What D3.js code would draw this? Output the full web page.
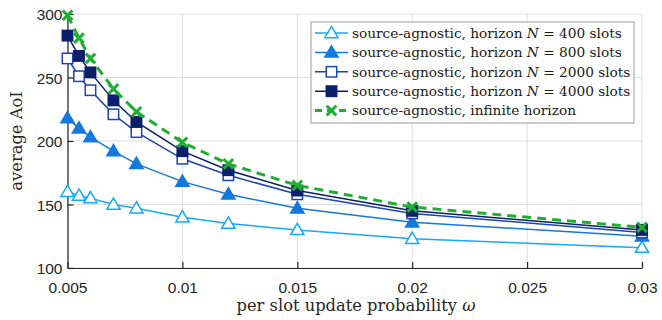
<!DOCTYPE html>
<html>
<head>
<meta charset="utf-8">
<script src="https://cdn.jsdelivr.net/npm/d3@7"></script>
<style>
  body { margin: 0; background: #fff; }
  svg { display: block; }
</style>
</head>
<body>
<svg id="chart" width="662" height="320"></svg>
<script>
// update probabilities (x)
const omega = [0.005, 0.0055, 0.006, 0.007, 0.008, 0.01, 0.012, 0.015, 0.02, 0.03];

// average AoI per horizon
const aoiN400 = [160, 157, 155, 150, 147, 140, 135, 130, 123, 116];
const aoiN800 = [218, 210, 203, 192, 182, 168, 158, 147, 136, 125];
const aoiN2000 = [265, 251, 240, 221, 207, 186, 173, 158, 143, 128];
const aoiN4000 = [283, 267, 254, 232, 215, 192, 177, 161, 145, 130];
const aoiInf = [299, 281, 265, 241, 223, 199, 182, 165, 148, 132];

const xTicks = [0.005, 0.01, 0.015, 0.02, 0.025, 0.03];
const yTicks = [100, 150, 200, 250, 300];

const seriesNames = [
    "source-agnostic, horizon N = 400 slots",
    "source-agnostic, horizon N = 800 slots",
    "source-agnostic, horizon N = 2000 slots",
    "source-agnostic, horizon N = 4000 slots",
    "source-agnostic, infinite horizon"
];

const series = [
    { values: aoiN400, color: "#14aaf5", marker: "triangle", fill: false, dash: null },
    { values: aoiN800, color: "#1578dc", marker: "triangle", fill: true, dash: null },
    { values: aoiN2000, color: "#1c45b4", marker: "square", fill: false, dash: null },
    { values: aoiN4000, color: "#0b1f6b", marker: "square", fill: true, dash: null },
    { values: aoiInf, color: "#1fae32", marker: "cross", fill: false, dash: "9,6" }
];

const serif = "'DejaVu Serif', serif";

const svg = d3.select("#chart");
const margin = { left: 67.5, right: 20, top: 14, bottom: 52 };
const width = 662, height = 320;

const x = d3.scaleLinear().domain([0.005, 0.03]).range([margin.left, width - margin.right]);
const y = d3.scaleLinear().domain([100, 300]).range([height - margin.bottom, margin.top]);

// grid
svg.append("g").selectAll("line.gx")
    .data(xTicks)
    .enter().append("line")
      .attr("x1", d => x(d)).attr("x2", d => x(d))
      .attr("y1", y(100)).attr("y2", y(300))
      .attr("stroke", "#dedede").attr("stroke-width", 1);
svg.append("g").selectAll("line.gy")
    .data(yTicks)
    .enter().append("line")
      .attr("x1", x(0.005)).attr("x2", x(0.03))
      .attr("y1", d => y(d)).attr("y2", d => y(d))
      .attr("stroke", "#dedede").attr("stroke-width", 1);

// axes
const xAxis = d3.axisBottom(x).tickValues(xTicks).tickSizeInner(-6).tickSizeOuter(0)
    .tickFormat(d => d3.format("")(+d.toFixed(3)));
const yAxis = d3.axisLeft(y).tickValues(yTicks).tickSizeInner(-6).tickSizeOuter(0);

const gx = svg.append("g").attr("transform", `translate(0,${y(100)})`).call(xAxis);
const gy = svg.append("g").attr("transform", `translate(${x(0.005)},0)`).call(yAxis);

[gx, gy].forEach(g => {
    g.select(".domain").attr("stroke", "#262626").attr("stroke-width", 1.2);
    g.selectAll(".tick line").attr("stroke", "#262626").attr("stroke-width", 1.2);
    g.selectAll(".tick text")
        .attr("fill", "#262626")
        .style("font-family", "'Liberation Sans', Arial, sans-serif")
        .style("font-size", "15.5px");
});
gx.selectAll(".tick text").attr("y", 9).attr("dy", "1.0em");
gy.selectAll(".tick text").attr("x", -5).attr("dy", "0.36em");

// axis labels
svg.append("text")
    .attr("x", 356)
    .attr("y", 311)
    .attr("text-anchor", "middle")
    .style("font-family", serif)
    .style("font-size", "16.3px")
    .attr("fill", "#262626")
    .html("per slot update probability <tspan font-style='italic'>ω</tspan>");

svg.append("text")
    .attr("transform", "rotate(-90)")
    .attr("x", -141)
    .attr("y", 22)
    .attr("text-anchor", "middle")
    .style("font-family", serif)
    .style("font-size", "16.3px")
    .attr("fill", "#262626")
    .text("average AoI");

// marker drawing
function drawMarker(g, s, cx, cy) {
    if (s.marker === "triangle") {
        const r = 7.8;
        g.append("path")
            .attr("d", `M${cx},${cy - r * 0.85} L${cx + r * 0.85},${cy + r * 0.6} L${cx - r * 0.85},${cy + r * 0.6} Z`)
            .attr("fill", s.fill ? s.color : "#fff")
            .attr("stroke", s.color).attr("stroke-width", 1.5);
    } else if (s.marker === "square") {
        const h = 5.2;
        g.append("rect")
            .attr("x", cx - h).attr("y", cy - h).attr("width", 2 * h).attr("height", 2 * h)
            .attr("fill", s.fill ? s.color : "#fff")
            .attr("stroke", s.color).attr("stroke-width", 1.5);
    } else {
        const h = 4.8;
        g.append("path")
            .attr("d", `M${cx - h},${cy - h} L${cx + h},${cy + h} M${cx - h},${cy + h} L${cx + h},${cy - h}`)
            .attr("stroke", s.color).attr("stroke-width", 3).attr("fill", "none");
    }
}

const line = d3.line().x(d => x(d[0])).y(d => y(d[1]));

series.forEach(s => {
    const pts = omega.map((w, i) => [w, s.values[i]]);
    svg.append("path")
        .datum(pts)
        .attr("d", line)
        .attr("fill", "none")
        .attr("stroke", s.color)
        .attr("stroke-width", s.dash ? 3 : 1.5)
        .attr("stroke-dasharray", s.dash);
    const g = svg.append("g");
    pts.forEach(p => drawMarker(g, s, x(p[0]), y(p[1])));
});

// legend
const legend = svg.append("g");
legend.append("rect")
    .attr("x", 311).attr("y", 22).attr("width", 323).attr("height", 101)
    .attr("fill", "#fff").attr("stroke", "#9a9a9a").attr("stroke-width", 1);

series.forEach((s, i) => {
    const ly = 33 + i * 19.4;
    legend.append("line")
        .attr("x1", 315).attr("x2", 348).attr("y1", ly).attr("y2", ly)
        .attr("stroke", s.color)
        .attr("stroke-width", s.dash ? 3 : 1.5)
        .attr("stroke-dasharray", s.dash ? "7,5" : null);
    drawMarker(legend, s, 331.5, ly);
    const t = legend.append("text")
        .attr("x", 352).attr("y", ly + 4.8)
        .style("font-family", serif)
        .style("font-size", "13.7px")
        .attr("fill", "#1a1a1a");
    const name = seriesNames[i];
    const m = name.match(/^(.*)N = (.*)$/);
    if (m) {
        t.append("tspan").text(m[1]);
        t.append("tspan").attr("font-style", "italic").text("N");
        t.append("tspan").text(" = " + m[2]);
    } else {
        t.text(name);
    }
});
</script>
</body>
</html>
